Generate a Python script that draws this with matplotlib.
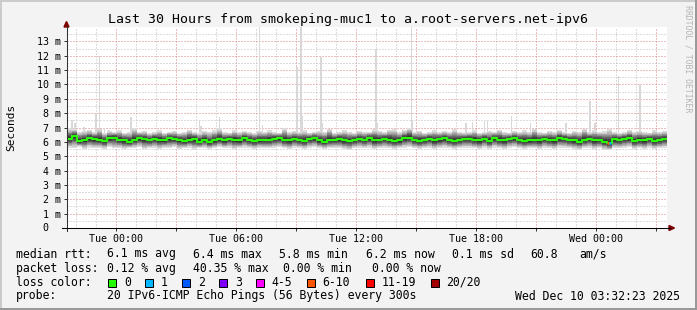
import numpy as np
import matplotlib
matplotlib.use('Agg')
import matplotlib.pyplot as plt
from matplotlib.patches import Polygon, Rectangle
from matplotlib.lines import Line2D

plt.rcParams['font.family'] = 'DejaVu Sans Mono'

W, H = 697, 310

# hour 0 = Mon Dec 8 21:32:23, one value per 15 minutes, 30 hours
step_h = 0.25
median_rtt = [6.20, 6.40, 6.06, 6.13, 6.25, 6.20, 6.13, 6.06, 6.25, 6.30,
              6.13, 6.10, 6.00, 6.13, 6.25, 6.20, 6.13, 6.20, 6.13, 6.10,
              6.25, 6.20, 6.13, 6.06, 6.15, 6.20, 6.02, 6.13, 5.97, 6.10,
              6.17, 6.10, 6.20, 6.13, 6.10, 6.25, 6.13, 6.06, 6.10, 6.13,
              6.13, 6.20, 6.25, 6.13, 6.10, 6.20, 6.13, 6.06, 6.20, 6.25,
              6.10, 6.02, 6.13, 6.13, 6.20, 6.10, 6.06, 6.13, 6.20, 6.13,
              6.25, 6.10, 6.13, 6.20, 6.13, 6.06, 6.10, 6.25, 6.30, 6.13,
              6.06, 6.13, 6.20, 6.10, 6.17, 6.25, 6.13, 6.06, 6.13, 6.20,
              6.20, 6.13, 6.10, 6.20, 6.06, 6.25, 6.13, 6.10, 6.20, 6.25,
              6.13, 6.06, 6.10, 6.13, 6.10, 6.20, 6.13, 6.10, 6.25, 6.20,
              6.13, 6.10, 6.02, 6.13, 6.20, 6.10, 6.13, 6.02, 5.90, 6.17,
              6.13, 6.20, 6.25, 6.06, 6.13, 6.10, 6.20, 6.06, 6.13, 6.20]
smoke_hi = [6.95, 6.90, 6.70, 6.75, 6.80, 6.70, 6.90, 6.65, 6.75, 6.70,
            6.80, 6.65, 6.70, 6.95, 6.70, 6.75, 6.60, 6.70, 6.80, 6.65,
            6.70, 6.75, 6.65, 6.70, 6.85, 6.70, 6.65, 6.75, 6.70, 6.80,
            6.95, 6.70, 6.65, 6.80, 6.70, 6.75, 6.70, 6.65, 6.75, 6.70,
            6.80, 6.70, 6.65, 6.95, 6.70, 6.75, 6.70, 6.80, 6.65, 6.70,
            6.75, 6.70, 6.90, 6.65, 6.70, 6.80, 6.70, 6.65, 6.75, 6.70,
            6.70, 6.90, 6.75, 6.70, 6.85, 6.90, 6.70, 6.80, 6.95, 6.70,
            6.75, 6.65, 6.70, 6.80, 6.70, 6.75, 6.70, 6.90, 6.70, 6.65,
            6.70, 6.80, 6.65, 6.70, 6.75, 6.70, 6.85, 6.70, 6.65, 6.75,
            6.70, 6.80, 6.70, 6.90, 6.70, 6.65, 6.75, 6.70, 6.80, 6.70,
            6.65, 6.75, 6.70, 6.90, 6.70, 6.80, 6.70, 6.75, 6.90, 6.70,
            6.65, 6.70, 6.80, 6.70, 6.75, 6.70, 6.65, 6.80, 6.70, 6.75]
smoke_lo = [5.60, 5.55, 5.65, 5.50, 5.60, 5.55, 5.60, 5.50, 5.65, 5.55,
            5.60, 5.50, 5.55, 5.60, 5.65, 5.50, 5.55, 5.60, 5.50, 5.60,
            5.55, 5.65, 5.50, 5.55, 5.60, 5.45, 5.55, 5.60, 5.50, 5.55,
            5.65, 5.55, 5.60, 5.50, 5.55, 5.60, 5.55, 5.50, 5.60, 5.55,
            5.55, 5.60, 5.65, 5.55, 5.50, 5.60, 5.55, 5.50, 5.60, 5.65,
            5.55, 5.50, 5.55, 5.60, 5.55, 5.50, 5.45, 5.55, 5.60, 5.55,
            5.60, 5.50, 5.55, 5.60, 5.55, 5.50, 5.55, 5.60, 5.65, 5.55,
            5.50, 5.55, 5.60, 5.50, 5.55, 5.60, 5.55, 5.50, 5.55, 5.60,
            5.60, 5.55, 5.50, 5.60, 5.50, 5.60, 5.55, 5.50, 5.60, 5.65,
            5.55, 5.50, 5.55, 5.55, 5.50, 5.60, 5.55, 5.50, 5.60, 5.60,
            5.55, 5.50, 5.45, 5.55, 5.60, 5.50, 5.55, 5.45, 5.40, 5.55,
            5.55, 5.60, 5.65, 5.50, 5.55, 5.50, 5.60, 5.50, 5.55, 5.60]

# single pings well above the smoke (max rtt), ms
spike_hours = [0.25, 0.40, 0.85, 1.45, 1.62, 1.87, 2.10, 3.20, 6.62, 6.70,
               7.62, 9.62, 9.78, 11.50, 11.70, 11.78, 12.70, 12.78, 15.45, 15.53,
               16.78, 17.23, 17.28, 19.95, 20.28, 20.87, 21.03, 22.23, 23.17, 24.95,
               26.15, 26.40, 27.57, 28.65]
spike_ms = [7.5, 7.3, 7.05, 8.0, 12.0, 7.0, 6.8, 7.7, 7.5, 7.1,
            7.76, 14.5, 7.2, 11.24, 14.5, 7.8, 11.94, 7.3, 12.47, 7.3,
            6.9, 14.5, 7.5, 7.3, 7.4, 7.45, 7.55, 7.83, 7.3, 7.3,
            8.85, 7.3, 10.6, 10.0]

loss_hours = [27.0, 27.1]
loss_count = [8, 1]

loss_legend = ['0', '1', '2', '3', '4-5', '6-10', '11-19', '20/20']
loss_upper = [0, 1, 2, 3, 5, 10, 19, 20]
loss_colors = ['#26ff00', '#00b8ff', '#0059ff', '#7e00ff', '#ff00ff', '#ff5500', '#ff0000', '#a10000']

time_labels = ['Tue 00:00', 'Tue 06:00', 'Tue 12:00', 'Tue 18:00', 'Wed 00:00']
first_label_h = 2 + 27 / 60 + 37 / 3600

rtt_stats = ['6.1 ms avg', '6.4 ms max', '5.8 ms min', '6.2 ms now', '0.1 ms sd', '60.8', 'am/s']
loss_stats = ['0.12 % avg', '40.35 % max', '0.00 % min', '0.00 % now']


def fx(x):
    return x / W


def fy(y):
    return 1 - y / H


fig = plt.figure(figsize=(W / 100, H / 100), dpi=100, facecolor='#F3F3F3')
ax = fig.add_axes([fx(67), 82 / H, 600 / W, 201 / H])
ax.set_facecolor('white')
ax.set_xlim(0, 30)
ax.set_ylim(0, 14)
for s in ax.spines.values():
    s.set_visible(False)

t = np.arange(len(median_rtt) + 1) * step_h
med = np.array(median_rtt + median_rtt[-1:])
hi = np.array(smoke_hi + smoke_hi[-1:])
lo = np.array(smoke_lo + smoke_lo[-1:])

# spikes first, smoke on top
ax.bar(spike_hours, np.array(spike_ms) - 6.3, bottom=6.3, width=0.08,
       color='#D8D8D8', lw=0, zorder=2, align='center')

shade = [1.0, 0.86, 0.76, 0.68, 0.6, 0.52, 0.44, 0.36, 0.27, 0.17]
for i, f in enumerate(shade):
    g = int(190 / 10 * (10 - (i + 1))) + 50
    ax.fill_between(t, med - (med - lo) * f, med + (hi - med) * f, step='post',
                    color='#%02x%02x%02x' % (g, g, g), lw=0, zorder=3)

ax.step(t, med, where='post', color=loss_colors[0], lw=1.5, zorder=4)
for h, n in zip(loss_hours, loss_count):
    c = loss_colors[next(i for i, u in enumerate(loss_upper) if n <= u)]
    y = median_rtt[int(h / step_h)]
    ax.hlines(y, h, h + 0.1, color=c, lw=2, zorder=5)

# grid
major_x = [first_label_h + 3 * k for k in range(10) if first_label_h + 3 * k < 30]
minor_x = [first_label_h - 2 + k for k in range(31) if first_label_h - 2 + k < 30]
ax.set_xticks(major_x)
ax.set_xticks(minor_x, minor=True)
ax.set_xticklabels([time_labels[k // 2] if k % 2 == 0 else '' for k in range(len(major_x))])
ax.set_yticks(range(14))
ax.set_yticks(np.arange(0.5, 14, 1.0), minor=True)
ax.set_yticklabels([''] + ['%d m' % v for v in range(1, 14)])
ax.set_axisbelow(True)
ax.grid(which='minor', color='#BDBDBD', ls=(0, (1, 2)), lw=0.72)
ax.grid(which='major', color='#D98080', ls=(0, (1, 2)), lw=0.72)
ax.tick_params(which='major', length=2.2, width=0.72, color='#333333', labelsize=7.2, pad=2.3)
ax.tick_params(which='minor', length=0)
fig.text(fx(42.7), fy(228), '0', fontsize=7.2, ha='left', va='center')

# axes and arrows
fig.add_artist(Line2D([fx(66.5), fx(66.5)], [fy(231), fy(26)], color='#333333', lw=0.75))
fig.add_artist(Line2D([fx(62), fx(670)], [fy(228), fy(228)], color='black', lw=0.75))
fig.add_artist(Polygon([[fx(64), fy(27)], [fx(69), fy(27)], [fx(66.5), fy(21.5)]],
                       closed=True, color='#7F0000', transform=fig.transFigure))
fig.add_artist(Polygon([[fx(669), fy(225.5)], [fx(669), fy(230.5)], [fx(674.5), fy(228)]],
                       closed=True, color='#7F0000', transform=fig.transFigure))

# frame shading
fig.add_artist(Line2D([0, 1], [fy(0.7), fy(0.7)], color='#CBCBCB', lw=1.44))
fig.add_artist(Line2D([fx(0.7), fx(0.7)], [0, 1], color='#CBCBCB', lw=1.44))
fig.add_artist(Line2D([0, 1], [fy(309.3), fy(309.3)], color='#999999', lw=1.44))
fig.add_artist(Line2D([fx(696.3), fx(696.3)], [0, 1], color='#999999', lw=1.44))

fig.text(0.5, fy(19), 'Last 30 Hours from smokeping-muc1 to a.root-servers.net-ipv6',
         fontsize=9.5, ha='center', va='center')
fig.text(fx(11), fy(127.5), 'Seconds', fontsize=8, rotation=90, ha='center', va='center')
fig.text(fx(688), fy(59), 'RRDTOOL / TOBI OETIKER', fontsize=5.9, rotation=270,
         ha='center', va='center', color='#B4B4B4')

lf = 8.3
fig.text(fx(16), fy(254), 'median rtt:', fontsize=lf, va='center')
for s, x in zip(rtt_stats, [107.3, 193.3, 279.3, 365.7, 451.7, 530, 579.3]):
    fig.text(fx(x), fy(254), s, fontsize=lf, va='center')
fig.text(fx(16), fy(268.3), 'packet loss:', fontsize=lf, va='center')
for s, x in zip(loss_stats, [107.3, 193.3, 282.7, 372.3]):
    fig.text(fx(x), fy(268.3), s, fontsize=lf, va='center')
fig.text(fx(16), fy(282.3), 'loss color:', fontsize=lf, va='center')
box_x = [108.3, 145.3, 182.3, 219.3, 256, 306.7, 365.7, 430.7]
for lab, c, x in zip(loss_legend, loss_colors, box_x):
    fig.add_artist(Rectangle((fx(x), fy(286.5)), 8 / W, 8 / H, facecolor=c,
                             edgecolor='black', lw=0.72, transform=fig.transFigure))
    fig.text(fx(x + 15.5), fy(282.3), lab, fontsize=lf, va='center')
fig.text(fx(16), fy(296), 'probe:', fontsize=lf, va='center')
fig.text(fx(107.3), fy(296), '20 IPv6-ICMP Echo Pings (56 Bytes) every 300s', fontsize=lf, va='center')
fig.text(fx(680), fy(296), 'Wed Dec 10 03:32:23 2025', fontsize=lf, va='center', ha='right')

fig.savefig('out.png', dpi=100, facecolor=fig.get_facecolor())
